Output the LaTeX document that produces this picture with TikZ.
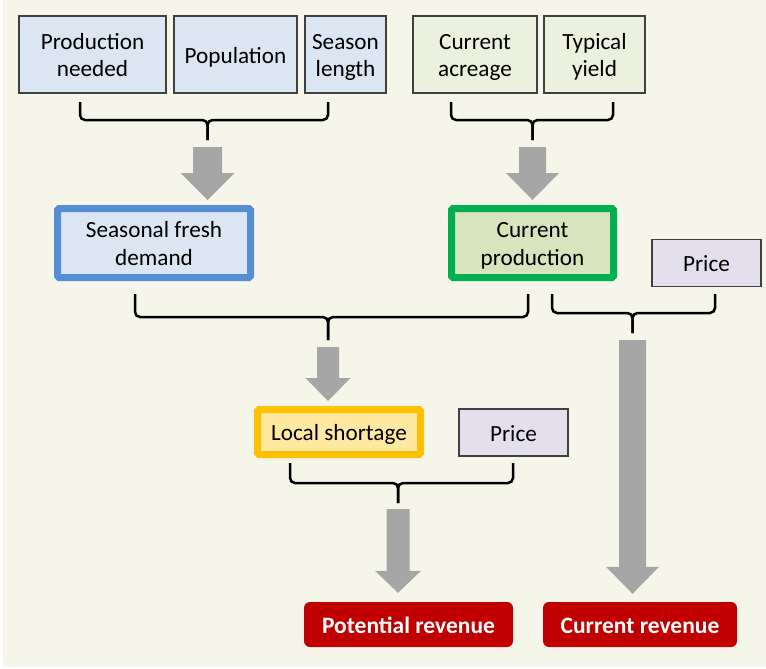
\documentclass[tikz,border=0pt]{standalone}
\usepackage{fontspec}
\setmainfont{Carlito}
\usetikzlibrary{calc}
\definecolor{bg}{HTML}{F5F6E9}
\definecolor{boxline}{HTML}{404040}
\definecolor{lblue}{HTML}{DCE6F2}
\definecolor{lgreen}{HTML}{EBF1DE}
\definecolor{lpurple}{HTML}{E4DFEC}
\definecolor{blueborder}{HTML}{558ED5}
\definecolor{greenborder}{HTML}{00B050}
\definecolor{cpfill}{HTML}{D7E4BD}
\definecolor{orangeborder}{HTML}{FFC000}
\definecolor{lsfill}{HTML}{FFE89F}
\definecolor{darkred}{HTML}{C00000}
\definecolor{arrowgray}{HTML}{A6A6A6}
\newcommand\blockarrow[5]{%
  \fill[arrowgray] let \p1=(#1), \p2=(#2) in
  (\x1-#3,\y1) -- (\x1+#3,\y1) -- (\x1+#3,\y2+#5) -- (\x1+#4,\y2+#5) --
  (\x1,\y2) -- (\x1-#4,\y2+#5) -- (\x1-#3,\y2+#5) -- cycle;}
\newcommand\twol[2]{\raisebox{-3pt}[\height][\depth]{\begin{tabular}{@{}c@{}}#1\\#2\end{tabular}}}
\begin{document}
\begin{tikzpicture}[x=1pt,y=-1pt,
  font={\fontsize{23.2}{27.5}\selectfont},
  strutted/.style={execute at begin node={\rule{0pt}{23.5pt}}, execute at end node={\rule[-6pt]{0pt}{0pt}}},
  inbox/.style={draw=boxline, line width=1.2pt, align=center, inner sep=0pt, minimum height=77pt, strutted},
  blueinput/.style={inbox, fill=lblue},
  greeninput/.style={inbox, fill=lgreen},
  pricebox/.style={inbox, fill=lpurple, minimum width=109pt, minimum height=47pt},
  keybox/.style={line width=7pt, rounded corners=1.5pt, align=center, inner sep=0pt, strutted},
  outbox/.style={fill=darkred, text=white, font={\fontsize{23.5}{27.5}\selectfont\bfseries}, rounded corners=6pt, minimum height=45pt, inner sep=0pt, strutted},
  brace/.style={draw=black, line width=2.5pt, rounded corners=5pt}]
\useasboundingbox (0,0) rectangle (766,669);
\fill[white] (0,0) rectangle (766,669);
\fill[bg] (3,0) rectangle (766,667);

% top inputs
\node[blueinput, minimum width=147pt] (pn) at (92.5,54.5) {\twol{Production}{needed}};
\node[blueinput, minimum width=123pt] (pop) at (235.5,54.5) {Population};
\node[blueinput, minimum width=81pt] (sl) at (345.5,54.5) {\twol{Season}{length}};
\node[greeninput, minimum width=124pt] (ca) at (475,54.5) {\twol{Current}{acreage}};
\node[greeninput, minimum width=101pt] (ty) at (594.5,54.5) {\twol{Typical}{yield}};

% key boxes
\node[keybox, draw=blueborder, fill=lblue, minimum width=193pt, minimum height=69pt] (sfd) at (154,243) {\twol{Seasonal fresh}{demand}};
\node[keybox, draw=greenborder, fill=cpfill, minimum width=162pt, minimum height=69pt] (cp) at (532.5,243) {\twol{Current}{production}};
\node[pricebox] (pr1) at (706.5,263) {Price};
\node[keybox, draw=orangeborder, fill=lsfill, minimum width=163pt, minimum height=45pt] (ls) at (339,432) {Local shortage};
\node[pricebox] (pr2) at (513.5,432.5) {Price};

% outputs
\node[outbox, minimum width=209pt] (pr) at (408.5,624.5) {Potential revenue};
\node[outbox, minimum width=194pt] (cr) at (640,624.5) {Current revenue};

% braces
\coordinate (t1) at (207.5,140);
\draw[brace] (80,102) |- (t1 |- 0,120) -- (t1);
\draw[brace] (328,102) |- (t1 |- 0,120) -- (t1);
\coordinate (t2) at (532.5,140);
\draw[brace] (451,102) |- (t2 |- 0,120) -- (t2);
\draw[brace] (613,102) |- (t2 |- 0,120) -- (t2);
\coordinate (t3) at (328,340);
\draw[brace] (135,294) |- (t3 |- 0,317) -- (t3);
\draw[brace] (528,294) |- (t3 |- 0,317) -- (t3);
\coordinate (t4) at (632.5,333);
\draw[brace] (552,294) |- (t4 |- 0,313) -- (t4);
\draw[brace] (715,294) |- (t4 |- 0,313) -- (t4);
\coordinate (t5) at (398,503);
\draw[brace] (290,463) |- (t5 |- 0,483) -- (t5);
\draw[brace] (513,463) |- (t5 |- 0,483) -- (t5);

% block arrows
\coordinate (a1s) at ($(t1)+(0,7)$);
\coordinate (a1e) at ($(t1 |- sfd.north)+(0,-5)$);
\blockarrow{a1s}{a1e}{14.5pt}{27pt}{27pt}
\coordinate (a2s) at ($(t2)+(0,7)$);
\coordinate (a2e) at ($(t2 |- cp.north)+(0,-5)$);
\blockarrow{a2s}{a2e}{13.5pt}{26.5pt}{27pt}
\coordinate (a3s) at ($(t3)+(0,7)$);
\coordinate (a3e) at ($(t3 |- ls.north)+(0,-5)$);
\blockarrow{a3s}{a3e}{11pt}{22.5pt}{23pt}
\coordinate (a4s) at ($(t4)+(0,7)$);
\coordinate (a4e) at ($(t4 |- cr.north)+(0,-8)$);
\blockarrow{a4s}{a4e}{13.5pt}{26.5pt}{27pt}
\coordinate (a5s) at ($(t5)+(0,6)$);
\coordinate (a5e) at ($(t5 |- pr.north)+(0,-9)$);
\blockarrow{a5s}{a5e}{11.5pt}{23pt}{22pt}
\end{tikzpicture}
\end{document}
